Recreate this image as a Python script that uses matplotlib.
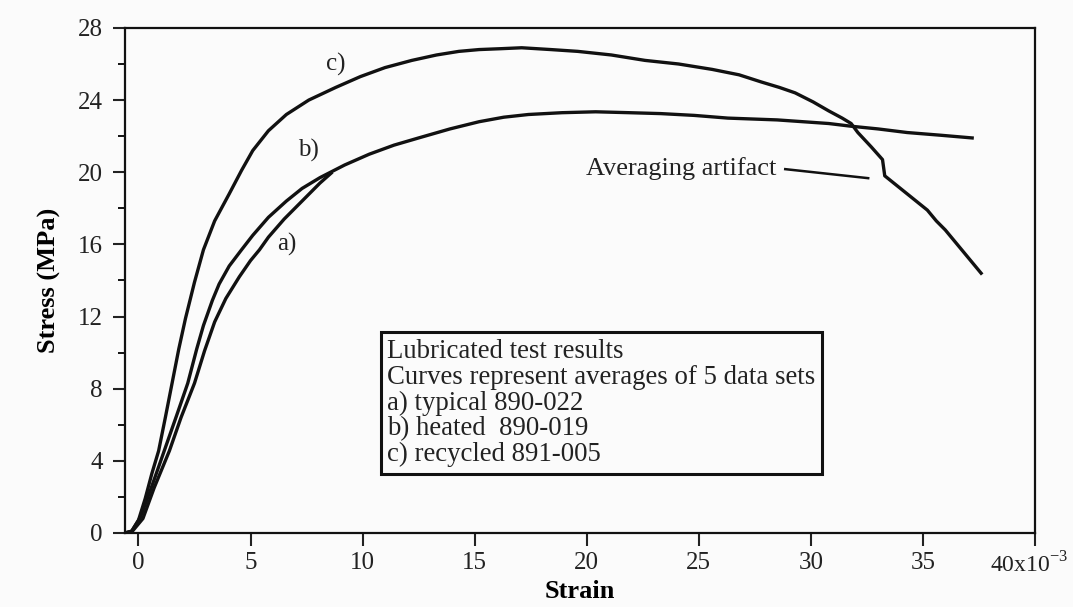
import matplotlib
matplotlib.use("Agg")
import matplotlib.pyplot as plt
import matplotlib.transforms as mtransforms
from matplotlib.ticker import MultipleLocator, FixedLocator, FixedFormatter

plt.rcParams['font.family'] = ['Liberation Serif', 'DejaVu Serif']
plt.rcParams['mathtext.fontset'] = 'custom'
plt.rcParams['mathtext.rm'] = 'Liberation Serif'

# ---- data (strain in 1e-3, stress in MPa) ----
a_strain = [-0.6, -0.3, 0.2, 0.7, 1.38, 1.9, 2.5, 2.95, 3.4, 3.9, 4.5, 5.0, 5.4,
            5.8, 6.5, 7.3, 8.1, 8.6]
a_stress = [0.0, 0.05, 0.8, 2.5, 4.55, 6.4, 8.3, 10.1, 11.7, 13.0, 14.2, 15.1, 15.7,
            16.4, 17.4, 18.4, 19.4, 19.95]

b_strain = [-0.6, -0.3, 0.1, 0.6, 1.15, 1.7, 2.2, 2.6, 2.9, 3.3, 3.6, 4.05, 4.6,
            5.1, 5.8, 6.6, 7.3, 8.1, 9.2, 10.3, 11.4, 12.5, 13.9, 15.2, 16.3,
            17.4, 18.9, 20.4, 21.9, 23.3, 24.8, 26.3, 28.5, 30.8, 31.8, 33.0,
            34.3, 35.8, 37.2]
b_stress = [0.0, 0.1, 0.9, 2.6, 4.55, 6.5, 8.3, 10.2, 11.5, 12.9, 13.8, 14.8, 15.7,
            16.5, 17.5, 18.4, 19.1, 19.7, 20.4, 21.0, 21.5, 21.9, 22.4, 22.8, 23.05,
            23.2, 23.3, 23.35, 23.3, 23.25, 23.15, 23.0, 22.9, 22.7, 22.55, 22.4,
            22.2, 22.05, 21.9]

c_strain = [-0.6, -0.3, 0.0, 0.3, 0.6, 0.9, 1.2, 1.5, 1.8, 2.1, 2.5, 2.9, 3.4,
            4.05, 4.6, 5.1, 5.8, 6.6, 7.6, 8.8, 9.9, 11.0, 12.2, 13.3, 14.3,
            15.2, 16.2, 17.1, 18.4, 19.6, 21.1, 22.6, 24.1, 25.6, 26.8, 27.8,
            28.6, 29.3, 30.1, 30.8, 31.4, 31.8, 32.1, 32.7, 33.2, 33.3, 33.5,
            34.3, 35.2, 35.6, 36.0, 36.8, 37.6]
c_stress = [0.0, 0.1, 0.7, 1.9, 3.3, 4.55, 6.4, 8.3, 10.2, 11.9, 13.9, 15.7, 17.3,
            18.8, 20.1, 21.2, 22.3, 23.2, 24.0, 24.7, 25.3, 25.8, 26.2, 26.5, 26.7,
            26.8, 26.85, 26.9, 26.8, 26.7, 26.5, 26.2, 26.0, 25.7, 25.4, 25.0,
            24.7, 24.4, 23.9, 23.4, 23.0, 22.7, 22.2, 21.4, 20.7, 19.8, 19.6,
            18.8, 17.9, 17.3, 16.8, 15.6, 14.4]

x_ticks = [0, 5, 10, 15, 20, 25, 30, 35, 40]
x_tick_labels = ['0', '5', '10', '15', '20', '25', '30', '35',
                 r'40x10$^{\mathregular{-3}}$']
y_ticks = [0, 4, 8, 12, 16, 20, 24, 28]

legend_lines = ["Lubricated test results",
                "Curves represent averages of 5 data sets",
                "a) typical 890-022",
                "b) heated  890-019",
                "c) recycled 891-005"]

fig = plt.figure(figsize=(10.73, 6.07), dpi=100, facecolor='#fbfbfb')
ax = fig.add_axes([0.1165, 0.122, 0.848, 0.832])
ax.set_facecolor('#fbfbfb')

lw = 2.4
for xs, ys in ((a_strain, a_stress), (b_strain, b_stress), (c_strain, c_stress)):
    ax.plot(xs, ys, color='#111111', lw=lw, solid_joinstyle='round')

ax.set_xlim(-0.6, 40)
ax.set_ylim(0, 28)

ax.xaxis.set_major_locator(FixedLocator(x_ticks))
ax.xaxis.set_major_formatter(FixedFormatter(x_tick_labels))
ax.yaxis.set_major_locator(FixedLocator(y_ticks))
ax.yaxis.set_minor_locator(MultipleLocator(2))

ax.tick_params(axis='both', which='major', direction='out', length=9, width=1.5,
               labelsize=18, colors='#222222')
ax.tick_params(axis='x', which='major', pad=5)
ax.tick_params(axis='y', which='major', pad=7)
ax.tick_params(axis='y', which='minor', direction='out', length=5, width=1.3)
for s in ax.spines.values():
    s.set_linewidth(1.6)
    s.set_color('#111111')

ax.set_xlabel('Strain', fontsize=19, fontweight='bold', labelpad=2)
ax.set_ylabel('Stress (MPa)', fontsize=19, fontweight='bold', labelpad=12)

# curve labels
ax.text(8.8, 26.0, 'c)', fontsize=18, ha='center', va='center', color='#222222')
ax.text(7.6, 21.2, 'b)', fontsize=18, ha='center', va='center', color='#222222')
ax.text(6.6, 16.0, 'a)', fontsize=18, ha='center', va='center', color='#222222')

# annotation
ax.text(19.95, 20.2, 'Averaging artifact', fontsize=19, ha='left', va='center',
        color='#222222')
ax.plot([28.86, 32.56], [20.17, 19.67], color='#111111', lw=1.8)

# text box
ax.text(11.1, 10.75, "\n".join(legend_lines), fontsize=19.3, ha='left', va='top',
        color='#222222', linespacing=1.04,
        bbox=dict(boxstyle='square,pad=0.25', facecolor='none', edgecolor='#111111',
                  linewidth=2.2))

# last tick label: slightly smaller and nudged left so it fits like the original
last = ax.xaxis.get_major_ticks()[-1].label1
last.set_fontsize(17)
last.set_transform(last.get_transform() +
                   mtransforms.ScaledTranslation(-4 / 72, 0, fig.dpi_scale_trans))

fig.savefig('out.png', dpi=100, facecolor=fig.get_facecolor())
